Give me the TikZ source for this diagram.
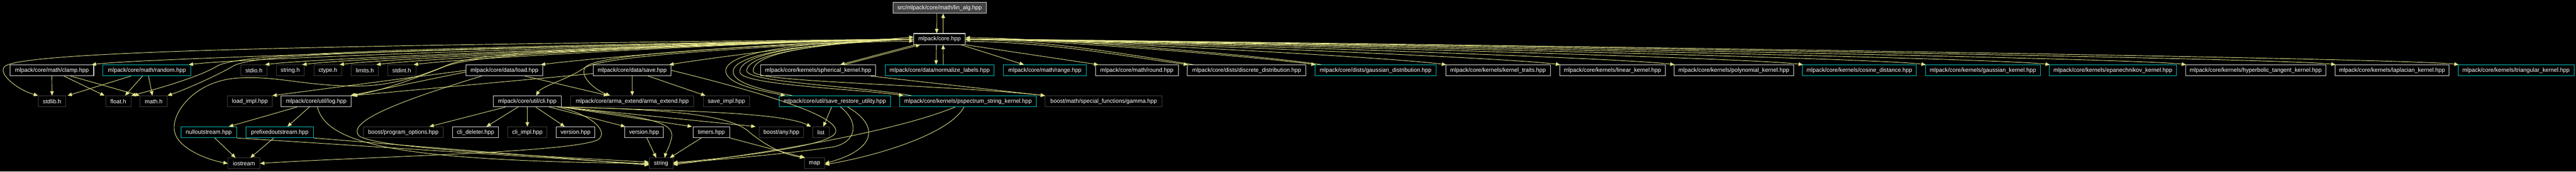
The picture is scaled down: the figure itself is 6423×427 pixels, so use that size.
\documentclass[tikz,border=0pt]{standalone}
\usepackage{fontspec}
\newfontfamily\dfont{Liberation Sans}
\usepackage{tikz}
\usetikzlibrary{arrows.meta}

\definecolor{kante}{RGB}{228,228,140}
\definecolor{dokrand}{RGB}{225,225,225}
\definecolor{zykrand}{RGB}{0,200,200}
\definecolor{sysrand}{RGB}{64,64,64}
\definecolor{wurzelgrau}{RGB}{68,68,68}

\begin{document}
\begin{tikzpicture}[x=1pt,y=-1pt,>={Triangle[length=11pt,width=9pt]},
    datei/.style={draw,fill=black,text=white,line width=1.3pt,
      minimum height=27pt,inner xsep=0pt,inner ysep=0pt,
      font=\dfont\fontsize{14.4}{17}\selectfont},
    doc/.style={datei,draw=dokrand},
    cyc/.style={datei,draw=zykrand},
    ext/.style={datei,draw=sysrand},
    root/.style={datei,draw=dokrand,fill=wurzelgrau},
    inc/.style={->,draw=kante,line width=1.2pt}]

% Hintergrund
\fill[black] (0,0) rectangle (6423,427);
\useasboundingbox (0,0) rectangle (6423,427);

% Wurzel und Kern
\node[root,minimum width=233pt] (linalg) at (2342.7,19.5) {src/mlpack/core/math/lin\_alg.hpp};
\node[doc,minimum width=128pt] (core) at (2342.6,97) {mlpack/core.hpp};

% Ebene 2
\node[doc,minimum width=209pt] (clamp) at (129.3,175) {mlpack/core/math/clamp.hpp};
\node[cyc,minimum width=219pt] (random) at (366.3,175) {mlpack/core/math/random.hpp};
\node[ext,minimum width=66pt] (stdio) at (633,175) {stdio.h};
\node[ext,minimum width=70pt] (stringh) at (723.7,175) {string.h};
\node[ext,minimum width=69pt] (ctype) at (817.5,175) {ctype.h};
\node[ext,minimum width=68pt] (limits) at (909.6,175) {limits.h};
\node[ext,minimum width=70pt] (stdint) at (1001.7,175) {stdint.h};
\node[doc,minimum width=192pt] (load) at (1257.7,175) {mlpack/core/data/load.hpp};
\node[doc,minimum width=195pt] (save) at (1576.3,175) {mlpack/core/data/save.hpp};
\node[doc,minimum width=286pt] (spherical) at (2040,175) {mlpack/core/kernels/spherical\_kernel.hpp};
\node[cyc,minimum width=272pt] (normalize) at (2343,175) {mlpack/core/data/normalize\_labels.hpp};
\node[cyc,minimum width=207pt] (range) at (2605.4,175) {mlpack/core/math/range.hpp};
\node[doc,minimum width=207pt] (round) at (2834.7,175) {mlpack/core/math/round.hpp};
\node[doc,minimum width=295pt] (discrete) at (3108.4,175) {mlpack/core/dists/discrete\_distribution.hpp};
\node[cyc,minimum width=301pt] (gdist) at (3429.8,175) {mlpack/core/dists/gaussian\_distribution.hpp};
\node[doc,minimum width=261pt] (traits) at (3735.1,175) {mlpack/core/kernels/kernel\_traits.hpp};
\node[doc,minimum width=263pt] (linear) at (4020.4,175) {mlpack/core/kernels/linear\_kernel.hpp};
\node[doc,minimum width=298pt] (poly) at (4323,175) {mlpack/core/kernels/polynomial\_kernel.hpp};
\node[cyc,minimum width=284pt] (cosine) at (4636.2,175) {mlpack/core/kernels/cosine\_distance.hpp};
\node[cyc,minimum width=287pt] (gkernel) at (4944,175) {mlpack/core/kernels/gaussian\_kernel.hpp};
\node[cyc,minimum width=317pt] (epan) at (5268.2,175) {mlpack/core/kernels/epanechnikov\_kernel.hpp};
\node[doc,minimum width=350pt] (hyper) at (5624.4,175) {mlpack/core/kernels/hyperbolic\_tangent\_kernel.hpp};
\node[doc,minimum width=284pt] (laplace) at (5964.2,175) {mlpack/core/kernels/laplacian\_kernel.hpp};
\node[cyc,minimum width=289pt] (triang) at (6273.5,175) {mlpack/core/kernels/triangular\_kernel.hpp};

% Ebene 3
\node[ext,minimum width=68pt] (stdlib) at (129.7,252) {stdlib.h};
\node[ext,minimum width=63pt] (float) at (294.9,252) {float.h};
\node[ext,minimum width=68pt] (math) at (383,252) {math.h};
\node[ext,minimum width=111pt] (loadimpl) at (623,252) {load\_impl.hpp};
\node[doc,minimum width=175pt] (log) at (788.4,252) {mlpack/core/util/log.hpp};
\node[doc,minimum width=169pt] (cli) at (1314.7,252) {mlpack/core/util/cli.hpp};
\node[ext,minimum width=307pt] (arma) at (1576.4,252) {mlpack/core/arma\_extend/arma\_extend.hpp};
\node[ext,minimum width=115pt] (saveimpl) at (1811.2,252) {save\_impl.hpp};
\node[cyc,minimum width=278pt] (saveru) at (2081.5,252) {mlpack/core/util/save\_restore\_utility.hpp};
\node[cyc,minimum width=341pt] (pspec) at (2413.6,252) {mlpack/core/kernels/pspectrum\_string\_kernel.hpp};
\node[ext,minimum width=291pt] (gamma) at (2751.9,252) {boost/math/special\_functions/gamma.hpp};

% Ebene 4
\node[cyc,minimum width=139pt] (nullout) at (520.5,329) {nulloutstream.hpp};
\node[cyc,minimum width=168pt] (prefixed) at (697.6,329) {prefixedoutstream.hpp};
\node[ext,minimum width=199pt] (progopt) at (1005.6,329) {boost/program\_options.hpp};
\node[doc,minimum width=115pt] (clidel) at (1185.7,329) {cli\_deleter.hpp};
\node[ext,minimum width=98pt] (cliimpl) at (1314.9,329) {cli\_impl.hpp};
\node[doc,minimum width=97pt] (versiona) at (1435,329) {version.hpp};
\node[doc,minimum width=96pt] (versionb) at (1605.8,329) {version.hpp};
\node[doc,minimum width=91pt] (timers) at (1773.6,329) {timers.hpp};
\node[ext,minimum width=111pt] (any) at (1948.2,329) {boost/any.hpp};
\node[ext,minimum width=40pt] (list) at (2047,329) {list};

% Ebene 5
\node[ext,minimum width=79pt] (iostream) at (608.3,406.5) {iostream};
\node[ext,minimum width=59pt] (string) at (1648.2,406.5) {string};
\node[ext,minimum width=50pt] (map) at (2031,406.5) {map};

% Wurzel <-> Kern
\draw[inc] ([xshift=-7pt]linalg.south) -- ([xshift=-7pt]core.north);
\draw[inc] ([xshift=9pt]core.north) -- ([xshift=9pt]linalg.south);

% Kern nach links, Ebene 2
\draw[inc] (core.west) .. controls ([xshift=-200pt]core.west) and ([xshift=150pt,yshift=20pt]clamp.north east) .. ([xshift=-6pt]clamp.north east);
\draw[inc] (core.west) .. controls ([xshift=-200pt]core.west) and ([xshift=150pt,yshift=20pt]random.north east) .. ([xshift=-6pt]random.north east);
\draw[inc] (core.west) .. controls ([xshift=-200pt]core.west) and ([xshift=150pt,yshift=20pt]stdio.north east) .. ([xshift=-6pt]stdio.north east);
\draw[inc] (core.west) .. controls ([xshift=-200pt]core.west) and ([xshift=150pt,yshift=20pt]stringh.north east) .. ([xshift=-6pt]stringh.north east);
\draw[inc] (core.west) .. controls ([xshift=-200pt]core.west) and ([xshift=150pt,yshift=20pt]ctype.north east) .. ([xshift=-6pt]ctype.north east);
\draw[inc] (core.west) .. controls ([xshift=-200pt]core.west) and ([xshift=150pt,yshift=20pt]limits.north east) .. ([xshift=-6pt]limits.north east);
\draw[inc] (core.west) .. controls ([xshift=-200pt]core.west) and ([xshift=150pt,yshift=20pt]stdint.north east) .. ([xshift=-6pt]stdint.north east);
\draw[inc] (core.west) .. controls ([xshift=-200pt]core.west) and ([xshift=150pt,yshift=20pt]load.north east) .. ([xshift=-6pt]load.north east);
\draw[inc] (core.west) .. controls ([xshift=-150pt]core.west) and ([xshift=120pt,yshift=20pt]save.north east) .. ([xshift=-6pt]save.north east);

% Kern nach links, tiefere Ebenen
\draw[inc] (core.west) .. controls (900,112) and (60,125) .. (12,165) .. controls (-7,181) and (40,222) .. (stdlib.north west);
\draw[inc] (core.west) .. controls (900,120) and (590,135) .. (540,165) .. controls (500,190) and (390,222) .. (float.north east);
\draw[inc] (core.west) .. controls (900,125) and (630,135) .. (580,165) .. controls (550,183) and (470,220) .. (math.north east);
\draw[inc] (core.west) .. controls (1500,115) and (1200,130) .. (1120,160) .. controls (1060,185) and (980,214) .. (890,214) .. controls (760,214) and (690,188) .. (595,194) .. controls (480,200) and (420,290) .. (437,333) .. controls (450,372) and (520,398) .. (iostream.west);
\draw[inc] (core.west) .. controls (1500,118) and (1190,135) .. (1110,165) .. controls (1060,185) and (960,225) .. (log.north east);
\draw[inc] (core.west) .. controls (1800,118) and (1500,135) .. (1462,165) .. controls (1440,185) and (1480,222) .. ([xshift=-55pt]arma.north);
\draw[inc] (core.west) .. controls (1800,122) and (1500,140) .. (1455,170) .. controls (1420,195) and (1350,215) .. ([xshift=22pt]cli.north);
\draw[inc] (core.west) .. controls (1960,105) and (1800,135) .. (1810,180) .. controls (1818,212) and (1900,226) .. ([xshift=16pt]saveru.north west);
\draw[inc] ([xshift=34pt]saveru.north west) .. controls (1890,222) and (1828,205) .. (1828,178) .. controls (1828,130) and (2050,104) .. ([yshift=-5pt]core.west);
\draw[inc] (core.west) .. controls (1970,108) and (1840,140) .. (1845,180) .. controls (1850,212) and (2150,222) .. ([xshift=10pt]pspec.north west);
\draw[inc] ([xshift=30pt]pspec.north west) .. controls (2150,215) and (1862,205) .. (1862,176) .. controls (1862,128) and (2080,108) .. ([yshift=5pt]core.west);
\draw[inc] (core.west) .. controls (1980,110) and (1875,140) .. (1878,178) .. controls (1881,205) and (2350,210) .. (gamma.north west);

% Kern nach unten
\draw[inc] ([xshift=-60pt]core.south) -- ([xshift=55pt]spherical.north);
\draw[inc] ([xshift=65pt]spherical.north) -- ([xshift=-48pt]core.south);
\draw[inc] ([xshift=-8pt]core.south) -- ([xshift=-9pt]normalize.north);
\draw[inc] ([xshift=9pt]normalize.north) -- ([xshift=9pt]core.south);

% Kern nach rechts
\draw[inc] ([xshift=-12pt]core.south east) -- ([xshift=52pt]range.north west);
\draw[inc] ([xshift=-2pt]core.south east) -- ([xshift=8pt]round.north west);
\draw[inc] ([yshift=-6pt]core.east) .. controls ([xshift=200pt,yshift=-6pt]core.east) and ([xshift=-150pt,yshift=20pt]discrete.north west) .. ([xshift=2pt]discrete.north west);
\draw[inc] ([xshift=16pt]discrete.north west) .. controls ([xshift=-140pt,yshift=24pt]discrete.north west) and ([xshift=200pt,yshift=-2pt]core.east) .. ([yshift=-2pt]core.east);
\draw[inc] (core.east) .. controls ([xshift=200pt]core.east) and ([xshift=-150pt,yshift=20pt]gdist.north west) .. ([xshift=2pt]gdist.north west);
\draw[inc] ([xshift=16pt]gdist.north west) .. controls ([xshift=-140pt,yshift=24pt]gdist.north west) and ([xshift=200pt,yshift=3pt]core.east) .. ([yshift=3pt]core.east);
\draw[inc] (core.east) .. controls ([xshift=200pt]core.east) and ([xshift=-150pt,yshift=20pt]traits.north west) .. ([xshift=2pt]traits.north west);
\draw[inc] (core.east) .. controls ([xshift=200pt]core.east) and ([xshift=-150pt,yshift=20pt]linear.north west) .. ([xshift=2pt]linear.north west);
\draw[inc] (core.east) .. controls ([xshift=200pt]core.east) and ([xshift=-150pt,yshift=20pt]poly.north west) .. ([xshift=2pt]poly.north west);
\draw[inc] (core.east) .. controls ([xshift=200pt]core.east) and ([xshift=-150pt,yshift=20pt]cosine.north west) .. ([xshift=2pt]cosine.north west);
\draw[inc] (core.east) .. controls ([xshift=200pt]core.east) and ([xshift=-150pt,yshift=20pt]gkernel.north west) .. ([xshift=2pt]gkernel.north west);
\draw[inc] (core.east) .. controls ([xshift=200pt]core.east) and ([xshift=-150pt,yshift=20pt]epan.north west) .. ([xshift=2pt]epan.north west);
\draw[inc] (core.east) .. controls ([xshift=200pt]core.east) and ([xshift=-150pt,yshift=20pt]hyper.north west) .. ([xshift=2pt]hyper.north west);
\draw[inc] (core.east) .. controls ([xshift=200pt]core.east) and ([xshift=-150pt,yshift=20pt]laplace.north west) .. ([xshift=2pt]laplace.north west);
\draw[inc] (core.east) .. controls ([xshift=200pt]core.east) and ([xshift=-150pt,yshift=20pt]triang.north west) .. ([xshift=2pt]triang.north west);

% clamp und random
\draw[inc] (clamp.south) -- (stdlib.north);
\draw[inc] ([xshift=30pt]clamp.south) -- ([xshift=-2pt]float.north west);
\draw[inc] ([xshift=47pt]clamp.south) -- (math.north west);
\draw[inc] ([xshift=-40pt]random.south) -- ([xshift=4pt]stdlib.north east);
\draw[inc] ([xshift=-11pt]random.south) -- ([xshift=17pt]float.north);
\draw[inc] ([xshift=4pt]random.south) -- ([xshift=-3pt]math.north);

% load und save
\draw[inc] (load.west) -- (loadimpl.north east);
\draw[inc] ([yshift=-4pt]load.west) -- ([xshift=-3pt]log.north east);
\draw[inc] ([xshift=-45pt]load.south east) -- ([xshift=-60pt]arma.north);
\draw[inc] ([xshift=40pt]load.south west) .. controls (1000,250) and (870,300) .. (893,335) .. controls (910,370) and (1400,390) .. ([yshift=3pt]string.west);
\draw[inc] ([yshift=-8pt]save.west) -- ([xshift=3pt]log.north east);
\draw[inc] (save.south) -- (arma.north);
\draw[inc] ([xshift=40pt]save.south) -- ([xshift=6pt]saveimpl.north west);
\draw[inc] (save.east) .. controls (1900,230) and (2100,290) .. (2083,330) .. controls (2070,365) and (1800,395) .. ([yshift=2pt]string.east);

% log
\draw[inc] ([xshift=-48pt]log.south) -- ([xshift=50pt]nullout.north);
\draw[inc] ([xshift=-17pt]log.south) -- ([xshift=19pt]prefixed.north);
\draw[inc] ([xshift=3pt]log.south) .. controls (815,360) and (1000,400) .. (string.west);
\draw[inc] ([xshift=15pt]nullout.south) -- ([xshift=-21pt]iostream.north);
\draw[inc] ([xshift=-15pt]prefixed.south) -- ([xshift=16pt]iostream.north);
\draw[inc] (nullout.south east) -- ([yshift=-2pt]string.west);
\draw[inc] (prefixed.south east) -- ([yshift=-4pt]string.west);

% cli
\draw[inc] ([xshift=-54pt]cli.south) -- ([xshift=65pt]progopt.north);
\draw[inc] ([xshift=-23pt]cli.south) -- ([xshift=27pt]clidel.north);
\draw[inc] (cli.south) -- (cliimpl.north);
\draw[inc] ([xshift=21pt]cli.south) -- ([xshift=-27pt]versiona.north);
\draw[inc] ([xshift=55pt]cli.south) -- ([xshift=2pt]versionb.north west);
\draw[inc] (cli.south east) -- ([xshift=-2pt]timers.north west);
\draw[inc] (cli.south east) -- ([xshift=-8pt]any.north west);
\draw[inc] (cli.south east) .. controls (1700,275) and (1950,280) .. ([xshift=-4pt]list.north west);
\draw[inc] (cli.south east) .. controls (1700,272) and (1830,290) .. (1870,330) .. controls (1920,370) and (1960,385) .. (map.north west);
\draw[inc] (cli.south east) .. controls (1600,290) and (1680,300) .. (1675,340) .. controls (1670,365) and (1660,380) .. ([xshift=9pt]string.north);
\draw[inc] ([xshift=-10pt]cli.south east) .. controls (1480,285) and (1520,330) .. (1490,348) .. controls (1420,380) and (900,390) .. (iostream.east);
\draw[inc] ([xshift=7pt]versionb.south) -- ([xshift=-12pt]string.north);
\draw[inc] ([xshift=-25pt]timers.south) -- ([xshift=22pt]string.north);
\draw[inc] (timers.south east) -- ([xshift=2pt]map.north west);

% save_restore_utility, pspectrum, spherical
\draw[inc] ([xshift=-8pt]saveru.south) -- ([xshift=6pt]list.north);
\draw[inc] ([xshift=14pt]saveru.south) .. controls (2140,300) and (2140,350) .. (2080,365) .. controls (1950,385) and (1750,400) .. (string.east);
\draw[inc] ([xshift=32pt]saveru.south) .. controls (2190,310) and (2190,370) .. (map.east);
\draw[inc] ([xshift=-32pt]pspec.south) .. controls (2200,340) and (1800,395) .. ([yshift=-3pt]string.east);
\draw[inc] ([xshift=-10pt]pspec.south) .. controls (2370,330) and (2200,385) .. ([yshift=-3pt]map.east);
\draw[inc] ([xshift=-13pt]spherical.south east) -- (gamma.north west);

\end{tikzpicture}
\end{document}
